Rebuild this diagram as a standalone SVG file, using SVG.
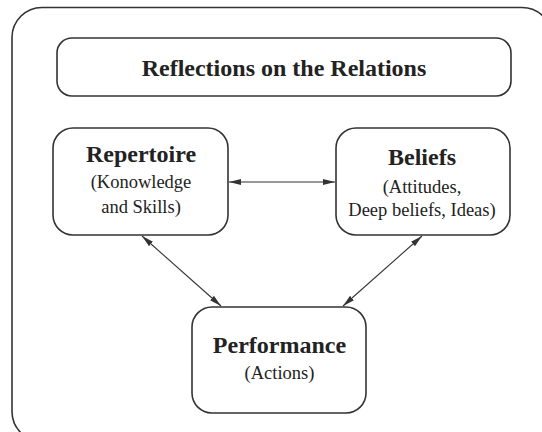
<svg xmlns="http://www.w3.org/2000/svg" width="542" height="432" viewBox="0 0 542 432">
<style>
.box{fill:#fff;stroke:#333;stroke-width:1.6}
.t{font-family:"Liberation Serif","Times New Roman",serif;fill:#222;text-anchor:middle}
.b{font-weight:bold;font-size:24px}
.s{font-size:18.5px}
.c{stroke:#333;stroke-width:1.1;fill:none;marker-start:url(#ah);marker-end:url(#ah)}
</style>
<defs>
<marker id="ah" viewBox="0 0 12 6" refX="12" refY="3" markerWidth="12" markerHeight="6" markerUnits="userSpaceOnUse" orient="auto-start-reverse">
<path d="M0,0 L12,3 L0,6 Z" fill="#333"/>
</marker>
</defs>
<rect x="12" y="7.5" width="540" height="434" rx="30" ry="30" fill="#fff" stroke="#333" stroke-width="1.6"/>
<g id="title">
<rect class="box" x="57" y="38" width="454" height="58" rx="15" ry="15"/>
<text class="t b" x="284" y="76">Reflections on the Relations</text>
</g>
<g id="repertoire">
<rect class="box" x="53" y="128" width="175" height="107" rx="20" ry="20"/>
<text class="t b" x="141" y="162">Repertoire</text>
<text class="t s" x="141" y="188">(Konowledge</text>
<text class="t s" x="141" y="213">and Skills)</text>
</g>
<g id="beliefs">
<rect class="box" x="336" y="128" width="174" height="107" rx="20" ry="20"/>
<text class="t b" x="422" y="165">Beliefs</text>
<text class="t s" x="422" y="193">(Attitudes,</text>
<text class="t s" x="422" y="216">Deep beliefs, Ideas)</text>
</g>
<g id="performance">
<rect class="box" x="192" y="307" width="174" height="106" rx="20" ry="20"/>
<text class="t b" x="279.5" y="353">Performance</text>
<text class="t s" x="279.5" y="379">(Actions)</text>
</g>
<g id="connectors">
<line class="c" x1="229" y1="182" x2="335" y2="182"/>
<line class="c" x1="142" y1="236" x2="221" y2="306"/>
<line class="c" x1="422" y1="236" x2="343" y2="306"/>
</g>
</svg>
